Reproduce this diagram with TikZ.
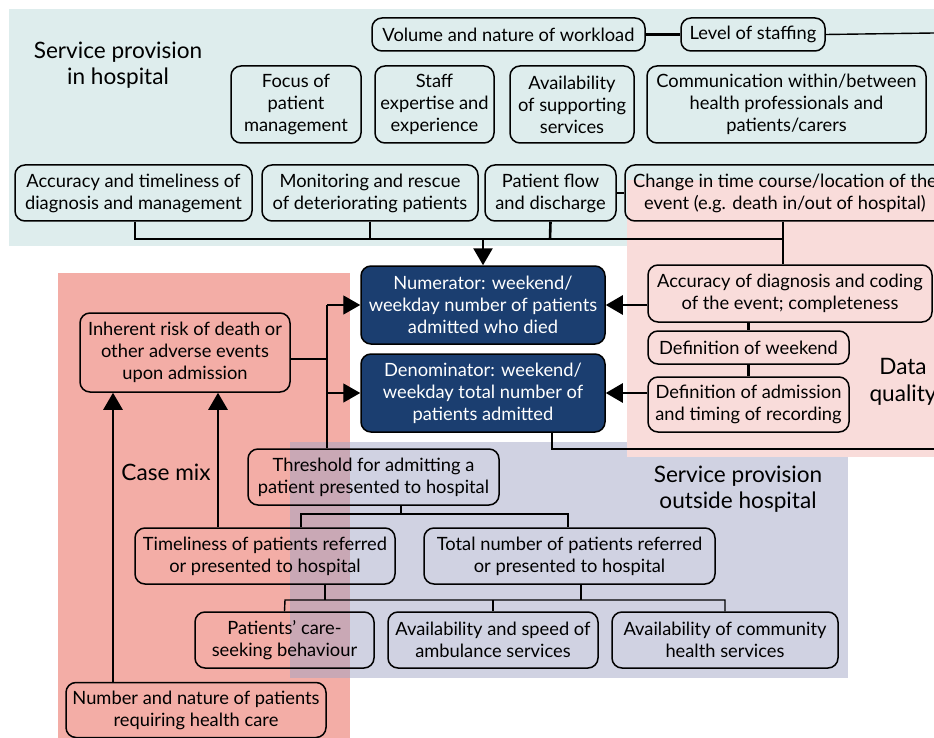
\documentclass[tikz,border=0pt]{standalone}
\usepackage{fontspec}
\setmainfont{Lato}
\usetikzlibrary{arrows.meta}
\definecolor{hospbg}{RGB}{222,237,237}
\definecolor{databg}{RGB}{249,220,218}
\definecolor{casebg}{RGB}{243,173,166}
\definecolor{outbg}{RGB}{161,165,197}
\definecolor{mnavy}{RGB}{27,62,112}
\tikzset{box/.style = {draw, line width=1.5pt, rounded corners=10pt, align=center,
                       inner sep=0pt, font=\fontsize{18.3}{22}\selectfont},
         darkbox/.style = {box, fill=mnavy, text=white},
         heading/.style = {align=center, font=\fontsize{22.6}{26.5}\selectfont},
         bus/.style = {line width=1.4pt},
         link/.style = {line width=2.6pt},
         pointer/.style = {-{Triangle[length=17pt, width=19pt]}}}

\begin{document}
\begin{tikzpicture}[x=1pt, y=-1pt]
    \useasboundingbox (0, 0) rectangle (934, 738);

    \fill [hospbg] (9, 9) rectangle (934, 246);
    \fill [casebg] (58, 273) rectangle (350, 738);
    \fill [outbg, opacity=0.5] (290, 442) rectangle (848, 678);
    \fill [databg] (627, 180) rectangle (934, 457);

    \node [heading] (hosplabel) at (118, 65) {Service provision\\in hospital};
    \node [heading] (caselabel) at (166, 472) {Case mix};
    \node [heading] (datalabel) at (903, 382) {Data\\quality};
    \node [heading] (outlabel) at (738, 489) {Service provision\\outside hospital};

    \node [box, minimum width=273, minimum height=33] (workload) at (508.5, 34.5) {Volume and nature of workload};
    \node [box, minimum width=144, minimum height=33] (staffing) at (753, 34.5) {Level of staffing};
    \node [box, minimum width=130, minimum height=77] (focus) at (296, 104.5) {Focus of\\patient\\management};
    \node [box, minimum width=119, minimum height=77] (expertise) at (434.5, 104.5) {Staff\\expertise and\\experience};
    \node [box, minimum width=124, minimum height=77] (support) at (572, 104.5) {Availability\\of supporting\\services};
    \node [box, minimum width=279, minimum height=77] (comms) at (786.5, 104.5) {Communication within/between\\health professionals and\\patients/carers};
    \node [box, minimum width=237, minimum height=56] (accuracy) at (133.5, 193) {Accuracy and timeliness of\\diagnosis and management};
    \node [box, minimum width=216, minimum height=56] (monitor) at (370, 193) {Monitoring and rescue\\of deteriorating patients};
    \node [box, minimum width=131, minimum height=56] (flow) at (550.5, 193) {Patient flow\\and discharge};
    \node [box, minimum width=320, minimum height=56] (change) at (785, 193) {Change in time course/location of the\\event (e.g. death in/out of hospital)};

    \node [darkbox, minimum width=244, minimum height=78] (numer) at (483, 305) {Numerator: weekend/\\weekday number of patients\\admitted who died};
    \node [darkbox, minimum width=244, minimum height=78] (denom) at (483, 393) {Denominator: weekend/\\weekday total number of\\patients admitted};

    \node [box, minimum width=284, minimum height=57] (coding) at (790, 293.5) {Accuracy of diagnosis and coding\\of the event; completeness};
    \node [box, minimum width=201, minimum height=33] (weekend) at (748.5, 347.5) {Definition of weekend};
    \node [box, minimum width=201, minimum height=55] (admission) at (748.5, 404.5) {Definition of admission\\and timing of recording};

    \node [box, minimum width=210, minimum height=79] (risk) at (185, 352.5) {Inherent risk of death or\\other adverse events\\upon admission};
    \node [box, minimum width=251, minimum height=56] (threshold) at (373.5, 477) {Threshold for admitting a\\patient presented to hospital};
    \node [box, minimum width=260, minimum height=56] (timely) at (265, 556) {Timeliness of patients referred\\or presented to hospital};
    \node [box, minimum width=291, minimum height=56] (total) at (569.5, 556) {Total number of patients referred\\or presented to hospital};
    \node [box, minimum width=179, minimum height=56] (careseek) at (284.5, 640) {Patients’ care-\\seeking behaviour};
    \node [box, minimum width=210, minimum height=56] (ambulance) at (493, 640) {Availability and speed of\\ambulance services};
    \node [box, minimum width=226, minimum height=56] (community) at (725, 640) {Availability of community\\health services};
    \node [box, minimum width=260, minimum height=55] (population) at (196, 710) {Number and nature of patients\\requiring health care};

    \coordinate (offtop) at (934, 33);
    \coordinate (offlow) at (934, 449);

    \draw [link] (workload) -- (staffing);
    \draw [bus] (staffing.east) -- (offtop);
    \draw [link] (flow) -- (change);

    \draw [bus] (accuracy.south -| 135, 0) -- (135, 239) -- (783, 239);
    \draw [link] (monitor.south) -- (370, 239);
    \draw [link] (flow.south) -- (550, 239);
    \draw [link] (change.south -| 783, 0) -- (coding.north -| 783, 0);
    \draw [link, pointer] (483, 239) -- (numer.north);

    \draw [link, pointer] (coding.west |- numer.east) -- (numer.east);
    \draw [link, pointer] (admission.west |- denom.east) -- (denom.east);
    \draw [link] (weekend.north |- coding.south) -- (weekend.north);
    \draw [link] (weekend.south) -- (admission.north);
    \draw [bus] (denom.south -| 552, 0) |- (offlow);

    \draw [link] (risk.east |- 0, 359) -- (327, 359);
    \draw [bus] (327, 305) -- (threshold.north -| 327, 0);
    \draw [bus, pointer] (327, 305) -- (numer.west);
    \draw [bus, pointer] (327, 393) -- (denom.west);
    \draw [link, pointer] (population.north -| 113, 0) -- (risk.south -| 113, 0);
    \draw [link, pointer] (timely.north -| 218, 0) -- (risk.south -| 218, 0);

    \draw [link] (threshold.south -| 401, 0) -- (401, 514);
    \draw [bus] (timely.north -| 301, 0) -- (301, 514) -- (568, 514) -- (total.north -| 568, 0);
    \draw [link] (timely.south -| 325, 0) -- (325, 600);
    \draw [link] (total.south -| 581, 0) -- (581, 600);
    \draw [bus] (careseek.north) -- (285, 600) -- (725, 600) -- (community.north);
    \draw [link] (ambulance.north) -- (493, 600);
\end{tikzpicture}
\end{document}
